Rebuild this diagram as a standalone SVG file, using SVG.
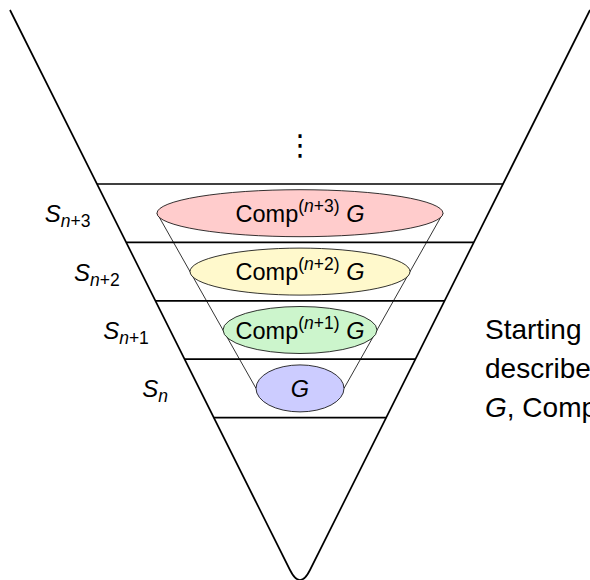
<svg xmlns="http://www.w3.org/2000/svg" width="590" height="580" viewBox="0 0 590 580">
<style>
.v{fill:none;stroke:#000;stroke-width:1.7;stroke-linejoin:round}
.h{stroke:#000;stroke-width:1.7}
.cone{stroke:#000;stroke-width:0.8;fill:none}
.ell{stroke:#000;stroke-width:0.8}
text{font-family:"Liberation Sans",Arial,sans-serif;fill:#000}
.el{font-size:23.5px}
.sup{font-size:17.5px}
.lab{font-size:24px}
.side{font-size:28px}
.it{font-style:italic}
</style>
<rect width="590" height="580" fill="#fff"/>
<g id="funnel">
<path class="v" d="M 10,10 L 290,570 Q 300,590 310,570 L 590,10"/>
</g>
<g id="levels">
<line class="h" x1="97" y1="184" x2="503" y2="184"/>
<line class="h" x1="126.2" y1="242.4" x2="473.8" y2="242.4"/>
<line class="h" x1="155.4" y1="300.8" x2="444.6" y2="300.8"/>
<line class="h" x1="184.6" y1="359.2" x2="415.4" y2="359.2"/>
<line class="h" x1="213.8" y1="417.6" x2="386.2" y2="417.6"/>
</g>
<g id="connectors">
<line class="cone" x1="157" y1="213.2" x2="256" y2="388.4"/>
<line class="cone" x1="443" y1="213.2" x2="344" y2="388.4"/>
</g>
<g id="comp3">
<ellipse class="ell" cx="300" cy="213.2" rx="143" ry="23.5" fill="#ffcccc"/>
<text class="el" x="300" y="222" text-anchor="middle">Comp<tspan class="sup" dy="-10">(<tspan class="it">n</tspan>+3)</tspan><tspan dy="10"> </tspan><tspan class="it">G</tspan></text>
</g>
<g id="comp2">
<ellipse class="ell" cx="300" cy="271.6" rx="110" ry="23.5" fill="#fff9cc"/>
<text class="el" x="300" y="280.4" text-anchor="middle">Comp<tspan class="sup" dy="-10">(<tspan class="it">n</tspan>+2)</tspan><tspan dy="10"> </tspan><tspan class="it">G</tspan></text>
</g>
<g id="comp1">
<ellipse class="ell" cx="300" cy="330" rx="77" ry="23.5" fill="#ccf5cc"/>
<text class="el" x="300" y="338.8" text-anchor="middle">Comp<tspan class="sup" dy="-10">(<tspan class="it">n</tspan>+1)</tspan><tspan dy="10"> </tspan><tspan class="it">G</tspan></text>
</g>
<g id="g0">
<ellipse class="ell" cx="300" cy="388.4" rx="44" ry="23.5" fill="#ccccff"/>
<text class="el it" x="300" y="397.2" text-anchor="middle">G</text>
</g>
<g id="labels">
<text class="lab" x="67.6" y="222" text-anchor="middle"><tspan class="it">S</tspan><tspan font-size="17.5" dy="5"><tspan class="it">n</tspan>+3</tspan></text>
<text class="lab" x="96.8" y="280.5" text-anchor="middle"><tspan class="it">S</tspan><tspan font-size="17.5" dy="5"><tspan class="it">n</tspan>+2</tspan></text>
<text class="lab" x="126" y="339" text-anchor="middle"><tspan class="it">S</tspan><tspan font-size="17.5" dy="5"><tspan class="it">n</tspan>+1</tspan></text>
<text class="lab" x="155.2" y="397" text-anchor="middle"><tspan class="it">S</tspan><tspan font-size="17.5" dy="5" class="it">n</tspan></text>
</g>
<g id="dots">
<text x="300" y="155" font-size="29" text-anchor="middle" style="font-family:'DejaVu Sans',sans-serif">⋮</text>
</g>
<g id="caption">
<text class="side" x="485" y="339">Starting</text>
<text class="side" x="485" y="378">describe</text>
<text class="side" x="485" y="417"><tspan class="it">G</tspan>, Comp</text>
</g>
</svg>
